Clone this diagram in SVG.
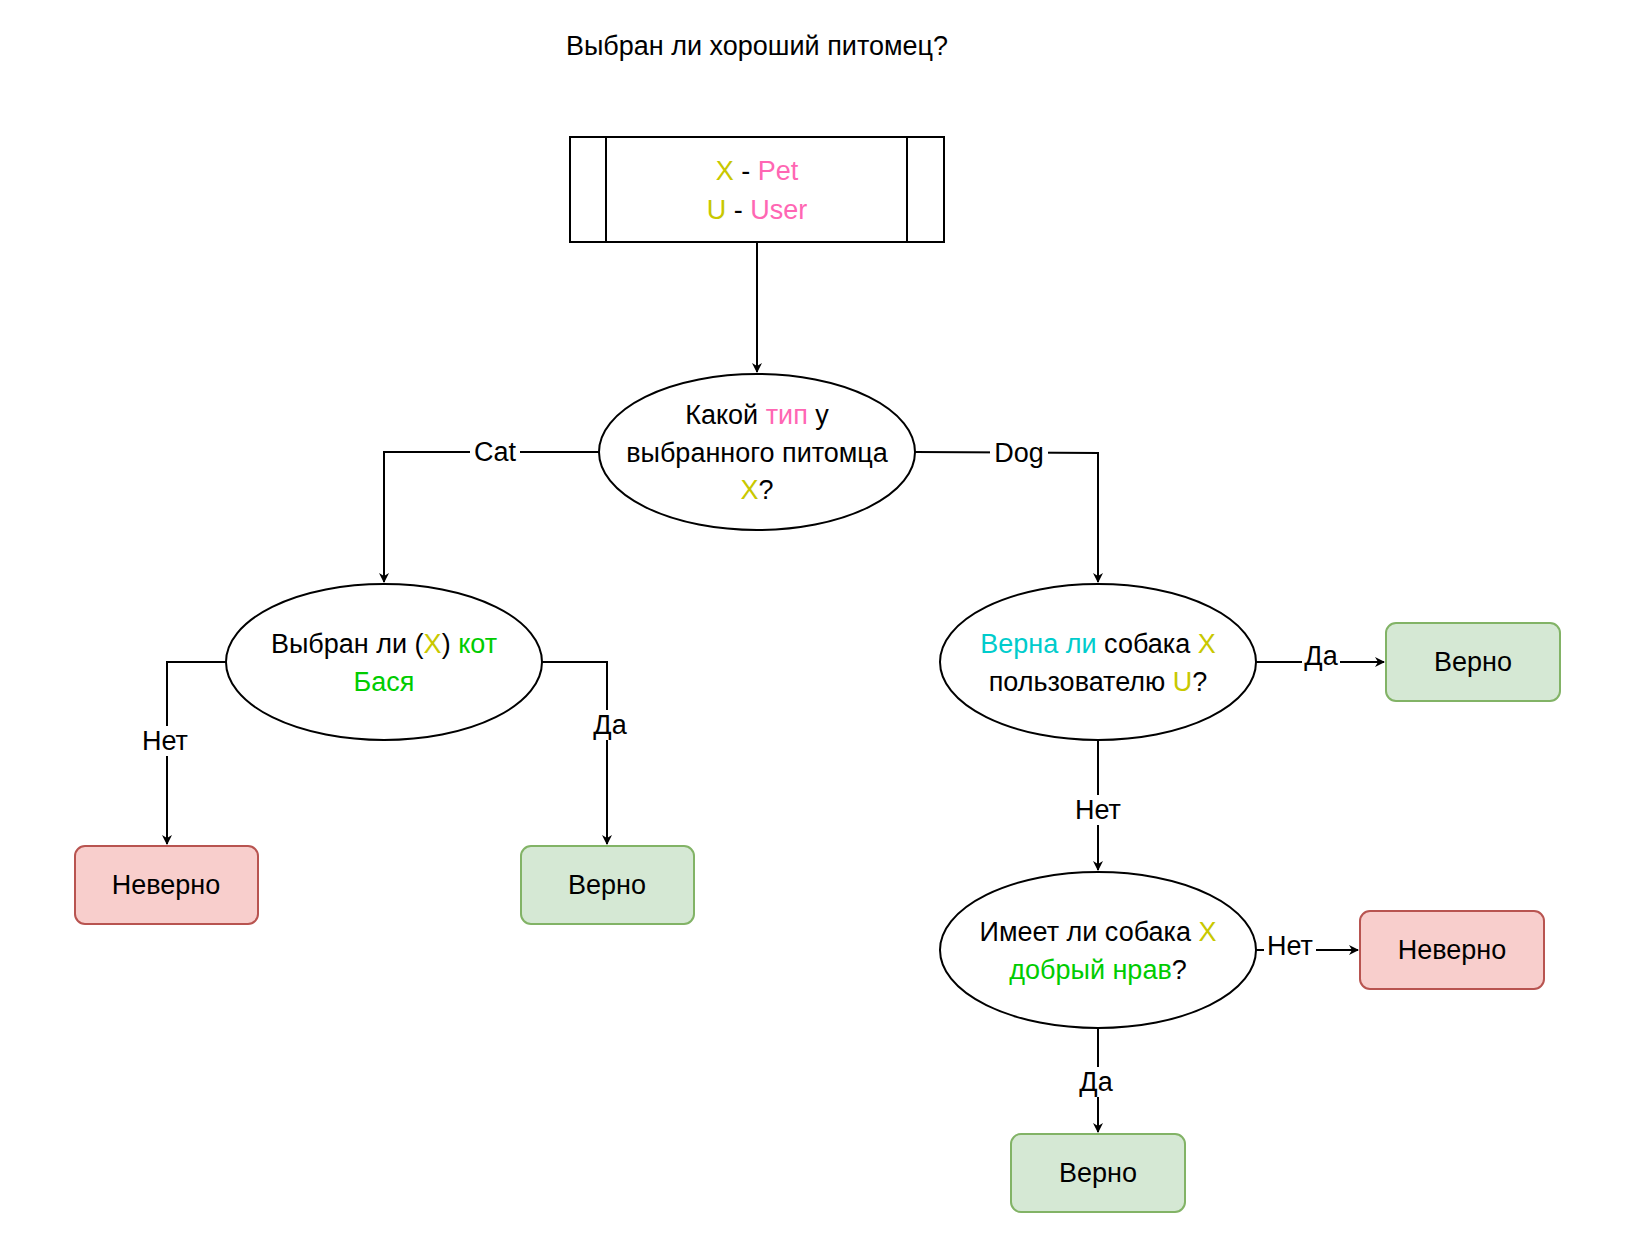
<svg xmlns="http://www.w3.org/2000/svg" width="1631" height="1252" viewBox="0 0 1631 1252">
<defs>
<marker id="a" markerWidth="10" markerHeight="10" refX="9" refY="5" orient="auto" markerUnits="userSpaceOnUse"><path d="M0,0 L10,5 L0,10 L3,5 z" fill="#000"/></marker>
</defs>
<style>
text{font-family:"Liberation Sans",Arial,sans-serif;font-size:27px;fill:#000;text-anchor:middle;dominant-baseline:central}
.e{fill:#fff;stroke:#000;stroke-width:2}
.c path{fill:none;stroke:#000;stroke-width:2;marker-end:url(#a)}
.lb{fill:#fff}
.g{fill:#d5e8d4;stroke:#82b366;stroke-width:2}
.r{fill:#f8cecc;stroke:#b85450;stroke-width:2}
.y{fill:#c8c800}.p{fill:#ff66b3}.gr{fill:#00cc00}.cy{fill:#00cccc}
</style>
<rect width="1631" height="1252" fill="#fff"/>
<text x="757" y="46">Выбран ли хороший питомец?</text>
<g class="c">
<path d="M757,242 V372"/>
<path d="M599,452 H384 V582"/>
<path d="M915,452 L1098,453 V582"/>
<path d="M226,662 H167 V844"/>
<path d="M542,662 H607 V844"/>
<path d="M1256,662 H1384"/>
<path d="M1098,740 V870"/>
<path d="M1256,950 H1358"/>
<path d="M1098,1028 V1132"/>
<rect class="lb" x="470" y="437" width="50" height="30"/><text x="495" y="452">Cat</text>
<rect class="lb" x="990" y="437" width="58" height="30"/><text x="1019" y="453">Dog</text>
<rect class="lb" x="138" y="726" width="54" height="30"/><text x="165" y="741">Нет</text>
<rect class="lb" x="590" y="710" width="40" height="30"/><text x="610" y="725">Да</text>
<rect class="lb" x="1302" y="642" width="38" height="30"/><text x="1321" y="656">Да</text>
<rect class="lb" x="1071" y="795" width="54" height="30"/><text x="1098" y="810">Нет</text>
<rect class="lb" x="1264" y="931" width="52" height="30"/><text x="1290" y="946">Нет</text>
<rect class="lb" x="1076" y="1067" width="40" height="30"/><text x="1096" y="1082">Да</text>
</g>
<g id="vars"><rect class="e" x="570" y="137" width="374" height="105"/><path d="M606,137V242M907,137V242" stroke="#000" stroke-width="2"/>
<text x="757" y="171"><tspan class="y">X</tspan> - <tspan class="p">Pet</tspan></text>
<text x="757" y="210"><tspan class="y">U</tspan> - <tspan class="p">User</tspan></text></g>
<g id="q1"><ellipse class="e" cx="757" cy="452" rx="158" ry="78"/>
<text x="757" y="415">Какой <tspan class="p">тип</tspan> у</text>
<text x="757" y="453">выбранного питомца</text>
<text x="757" y="490"><tspan class="y">X</tspan>?</text></g>
<g id="qcat"><ellipse class="e" cx="384" cy="662" rx="158" ry="78"/>
<text x="384" y="644">Выбран ли (<tspan class="y">X</tspan>) <tspan class="gr">кот</tspan></text>
<text x="384" y="682" class="gr">Бася</text></g>
<g id="qdog"><ellipse class="e" cx="1098" cy="662" rx="158" ry="78"/>
<text x="1098" y="644"><tspan class="cy">Верна ли</tspan> собака <tspan class="y">X</tspan></text>
<text x="1098" y="682">пользователю <tspan class="y">U</tspan>?</text></g>
<g id="qdog2"><ellipse class="e" cx="1098" cy="950" rx="158" ry="78"/>
<text x="1098" y="932">Имеет ли собака <tspan class="y">X</tspan></text>
<text x="1098" y="970"><tspan class="gr">добрый нрав</tspan>?</text></g>
<g id="n1"><rect class="r" x="75" y="846" width="183" height="78" rx="10"/><text x="166" y="885">Неверно</text></g>
<g id="v1"><rect class="g" x="521" y="846" width="173" height="78" rx="10"/><text x="607" y="885">Верно</text></g>
<g id="v2"><rect class="g" x="1386" y="623" width="174" height="78" rx="10"/><text x="1473" y="662">Верно</text></g>
<g id="n2"><rect class="r" x="1360" y="911" width="184" height="78" rx="10"/><text x="1452" y="950">Неверно</text></g>
<g id="v3"><rect class="g" x="1011" y="1134" width="174" height="78" rx="10"/><text x="1098" y="1173">Верно</text></g>
</svg>
